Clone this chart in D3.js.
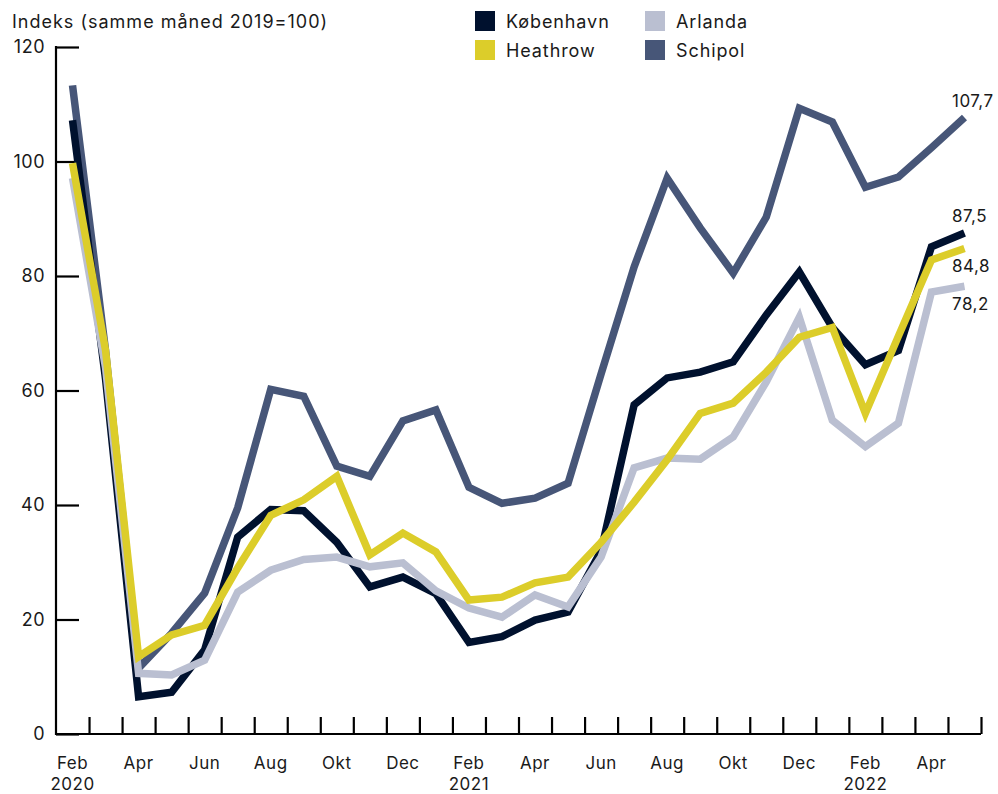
<!DOCTYPE html>
<html>
<head>
<meta charset="utf-8">
<script src="https://cdn.jsdelivr.net/npm/d3@7"></script>
<style>
	body { margin: 0; background: #fff; }
	svg { display: block; font-family: 'Inter', sans-serif; }
</style>
</head>
<body>
<div id="chart"></div>
<script>
// months from Feb 2020 to May 2022
var monthNames = ['Feb','Mar','Apr','Maj','Jun','Jul','Aug','Sep','Okt','Nov','Dec','Jan',
	'Feb','Mar','Apr','Maj','Jun','Jul','Aug','Sep','Okt','Nov','Dec','Jan',
	'Feb','Mar','Apr','Maj'];
var yearNames = ['2020','','','','','','','','','','','',
	'2021','','','','','','','','','','','',
	'2022','','',''];

var kobenhavn = [107.2, 62, 6.5, 7.3, 14.7, 34.4, 39.2, 39, 33.5, 25.7, 27.4, 24.5, 16, 17, 19.9, 21.3, 32, 57.5, 62.2, 63.2, 65, 73.2, 80.7, 71, 64.5, 67, 85.1, 87.5];
var heathrow = [99.7, 67, 13.5, 17.3, 19, 29, 38.2, 40.9, 45, 31.3, 35.1, 31.8, 23.4, 23.9, 26.4, 27.4, 33.5, 40.5, 47.9, 56, 57.8, 63.2, 69.3, 71, 56, 69.5, 82.8, 84.8];
var arlanda = [97.1, 64, 10.6, 10.3, 12.9, 24.8, 28.6, 30.5, 30.9, 29.2, 29.9, 25, 22, 20.4, 24.3, 22.2, 30.9, 46.5, 48.2, 48, 51.9, 61.5, 72.8, 54.8, 50.2, 54.3, 77.2, 78.2];
var schipol = [113.3, 67, 11.5, 17.6, 24.6, 39.5, 60.2, 59, 46.8, 45, 54.7, 56.6, 43.1, 40.3, 41.2, 43.8, 62.9, 81.6, 97.1, 88.4, 80.5, 90.3, 109.3, 106.9, 95.5, 97.3, 102.4, 107.7];

var yTicks = [0, 20, 40, 60, 80, 100, 120];

var series = [
	{ name: 'Schipol', values: schipol, color: '#475678', labelDy: -10 },
	{ name: 'København', values: kobenhavn, color: '#00112e', labelDy: -11 },
	{ name: 'Arlanda', values: arlanda, color: '#babfd1', labelDy: 24 },
	{ name: 'Heathrow', values: heathrow, color: '#dccd2a', labelDy: 23 }
];
// legend order (two columns)
var legendOrder = ['København', 'Heathrow', 'Arlanda', 'Schipol'];

var width = 998, height = 794;
var margin = { left: 56, right: 17, top: 47, bottom: 60 };

var svg = d3.select('#chart').append('svg')
	.attr('width', width)
	.attr('height', height);

var x = d3.scaleBand()
	.domain(d3.range(monthNames.length))
	.range([margin.left, width - margin.right]);

var y = d3.scaleLinear()
	.domain([0, 120])
	.range([height - margin.bottom, margin.top]);

// title
svg.append('text')
	.attr('x', 12)
	.attr('y', 28)
	.style('font-size', '18px')
	.style('letter-spacing', '1px')
	.style('fill', '#1a1a1a')
	.text('Indeks (samme måned 2019=100)');

// y axis
var yAxis = svg.append('g')
	.attr('transform', 'translate(' + margin.left + ',0)')
	.call(d3.axisRight(y).tickValues(yTicks).tickSize(23).tickFormat(''));
yAxis.select('.domain').remove();
yAxis.selectAll('line').attr('stroke', '#000').attr('stroke-width', 2.2);

svg.append('line')
	.attr('x1', margin.left).attr('x2', margin.left)
	.attr('y1', y(120) - 1).attr('y2', y(0) + 1)
	.attr('stroke', '#000').attr('stroke-width', 2.2);

svg.selectAll('.ylabel')
	.data(yTicks)
	.enter()
	.append('text')
	.attr('class', 'ylabel')
	.attr('x', 45)
	.attr('y', function(d) { return y(d) + 6; })
	.attr('text-anchor', 'end')
	.style('font-size', '18px')
	.style('letter-spacing', '0.5px')
	.style('fill', '#1a1a1a')
	.text(function(d) { return d; });

// x axis: ticks on the month boundaries
var boundaries = d3.range(1, monthNames.length + 1).map(function(i) { return margin.left + i * x.step(); });
var xAxisScale = d3.scaleLinear().domain([margin.left, width - margin.right]).range([margin.left, width - margin.right]);
var xAxis = svg.append('g')
	.attr('transform', 'translate(0,' + y(0) + ')')
	.call(d3.axisTop(xAxisScale).tickValues(boundaries).tickSize(17).tickFormat(''));
xAxis.select('.domain').attr('stroke', '#000').attr('stroke-width', 2.2)
	.attr('d', 'M' + margin.left + ',0H' + (width - margin.right));
xAxis.selectAll('line').attr('stroke', '#000').attr('stroke-width', 2.2);

var labelIdx = d3.range(0, monthNames.length, 2);
svg.selectAll('.xlabel')
	.data(labelIdx)
	.enter()
	.append('text')
	.attr('class', 'xlabel')
	.attr('x', function(i) { return x(i) + x.bandwidth() / 2; })
	.attr('y', 769)
	.attr('text-anchor', 'middle')
	.style('font-size', '17px')
	.style('letter-spacing', '0.5px')
	.style('fill', '#1a1a1a')
	.text(function(i) { return monthNames[i]; });

svg.selectAll('.yearlabel')
	.data(labelIdx.filter(function(i) { return yearNames[i] != ''; }))
	.enter()
	.append('text')
	.attr('class', 'yearlabel')
	.attr('x', function(i) { return x(i) + x.bandwidth() / 2; })
	.attr('y', 790)
	.attr('text-anchor', 'middle')
	.style('font-size', '17px')
	.style('letter-spacing', '0.5px')
	.style('fill', '#1a1a1a')
	.text(function(i) { return yearNames[i]; });

// lines
var line = d3.line()
	.x(function(d, i) { return x(i) + x.bandwidth() / 2; })
	.y(function(d) { return y(d); });

svg.selectAll('.series')
	.data(series)
	.enter()
	.append('path')
	.attr('class', 'series')
	.attr('d', function(d) { return line(d.values); })
	.attr('fill', 'none')
	.attr('stroke', function(d) { return d.color; })
	.attr('stroke-width', 7.5)
	.attr('stroke-linejoin', 'miter')
	.attr('stroke-linecap', 'butt');

// end values
var last = monthNames.length - 1;
svg.selectAll('.endlabel')
	.data(series)
	.enter()
	.append('text')
	.attr('class', 'endlabel')
	.attr('x', 952)
	.attr('y', function(d) { return y(d.values[last]) + d.labelDy; })
	.style('font-size', '17px')
	.style('letter-spacing', '0.5px')
	.style('fill', '#1a1a1a')
	.text(function(d) { return d3.format('.1f')(d.values[last]).replace('.', ','); });

// legend
var legend = svg.selectAll('.legend')
	.data(legendOrder)
	.enter()
	.append('g')
	.attr('class', 'legend')
	.attr('transform', function(d, i) {
		return 'translate(' + (475 + Math.floor(i / 2) * 170) + ',' + (11 + (i % 2) * 29) + ')';
	});

legend.append('rect')
	.attr('width', 20)
	.attr('height', 20)
	.attr('fill', function(name) {
		return series.filter(function(s) { return s.name == name; })[0].color;
	});

legend.append('text')
	.attr('x', 31)
	.attr('y', 17)
	.style('font-size', '18px')
	.style('letter-spacing', '0.9px')
	.style('fill', '#1a1a1a')
	.text(function(d) { return d; });
</script>
</body>
</html>
